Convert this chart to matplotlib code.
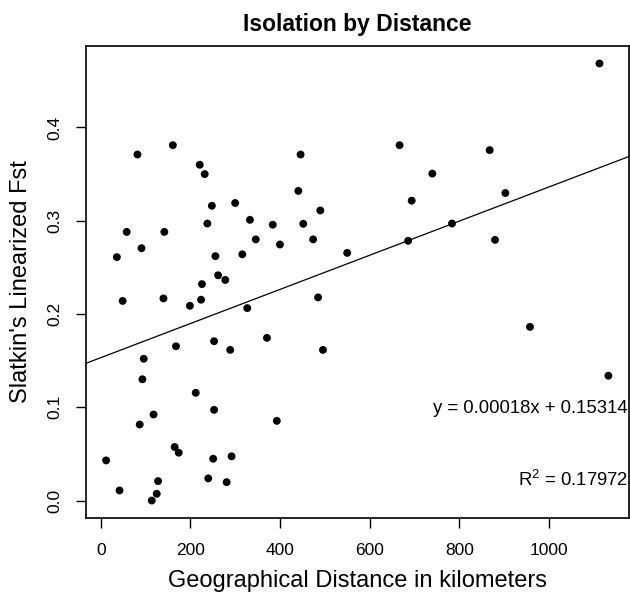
import numpy as np
import matplotlib
matplotlib.use("Agg")
import matplotlib.pyplot as plt

plt.rcParams['font.family'] = ['Liberation Sans', 'DejaVu Sans']
plt.rcParams['mathtext.fontset'] = 'custom'
plt.rcParams['mathtext.rm'] = 'Liberation Sans'

distance_km = [82, 161, 221, 232, 248, 300, 238, 333, 58, 142, 346, 91, 36, 256, 316,
               262, 278, 226, 49, 140, 199, 224, 327, 253, 168, 289, 96, 93, 212, 253,
               118, 87, 165, 174, 12, 251, 292, 240, 281, 128, 42, 125, 114, 446, 441,
               490, 384, 452, 400, 474, 550, 667, 740, 694, 686, 485, 371, 496, 393,
               1113, 868, 903, 784, 880, 958, 1133]
fst = [0.371, 0.381, 0.360, 0.350, 0.316, 0.319, 0.297, 0.301, 0.288, 0.288, 0.280,
       0.2705, 0.261, 0.262, 0.264, 0.2415, 0.2365, 0.232, 0.214, 0.2167, 0.2088,
       0.2153, 0.2063, 0.1708, 0.1654, 0.1615, 0.152, 0.130, 0.1155, 0.0972, 0.0922,
       0.0815, 0.0574, 0.0513, 0.043, 0.0448, 0.0474, 0.0237, 0.0197, 0.0208, 0.0108,
       0.0072, 0.0, 0.371, 0.332, 0.311, 0.2957, 0.2967, 0.2745, 0.280, 0.2655, 0.381,
       0.3505, 0.3215, 0.2785, 0.2178, 0.1744, 0.1615, 0.0854, 0.4686, 0.3757, 0.3297,
       0.297, 0.2795, 0.1862, 0.1338]
fit_slope = 0.000183
fit_intercept = 0.15314
eq_text = "y = 0.00018x + 0.15314"
r2_text = r"R$^2$ = 0.17972"
x_ticks = [0, 200, 400, 600, 800, 1000]
y_ticks = [0.0, 0.1, 0.2, 0.3, 0.4]

fig = plt.figure(figsize=(6.30, 5.92), dpi=100)
ax = fig.add_axes([86/630, 1 - 518/592, (628.5 - 86)/630, (518 - 46)/592])

ax.scatter(distance_km, fst, s=32, color='black', edgecolors='none', zorder=3)
ax.axline((0, fit_intercept), slope=fit_slope, color='black', lw=0.9)

xmin, xmax = min(distance_km), max(distance_km)
ymin, ymax = min(fst), max(fst)
ax.set_xlim(xmin - 0.04 * (xmax - xmin), xmax + 0.04 * (xmax - xmin))
ax.set_ylim(ymin - 0.04 * (ymax - ymin), ymax + 0.04 * (ymax - ymin))

ax.set_xticks(x_ticks)
ax.set_xticklabels([str(v) for v in x_ticks])
ax.set_yticks(y_ticks)
ax.set_yticklabels([f"{v:.1f}" for v in y_ticks], rotation=90, va='center')
ax.tick_params(axis='x', length=7, width=1, labelsize=12.5, pad=11)
ax.tick_params(axis='y', length=7, width=1, labelsize=12.5, pad=10)
for s in ax.spines.values():
    s.set_linewidth(1.2)

ax.set_title("Isolation by Distance", fontsize=16.5, fontweight='bold', pad=11)
ax.set_xlabel("Geographical Distance in kilometers", fontsize=17, va='center')
ax.xaxis.set_label_coords(0.5, -0.134)
ax.set_ylabel("Slatkin's Linearized Fst", fontsize=17, va='center')
ax.yaxis.set_label_coords(-0.119, 0.5)

ax.text(0.998, 0.233, eq_text, transform=ax.transAxes, ha='right', va='center', fontsize=13.3)
ax.text(0.998, 0.08, r2_text, transform=ax.transAxes, ha='right', va='center', fontsize=13.3)

fig.savefig("out.png", dpi=100)
